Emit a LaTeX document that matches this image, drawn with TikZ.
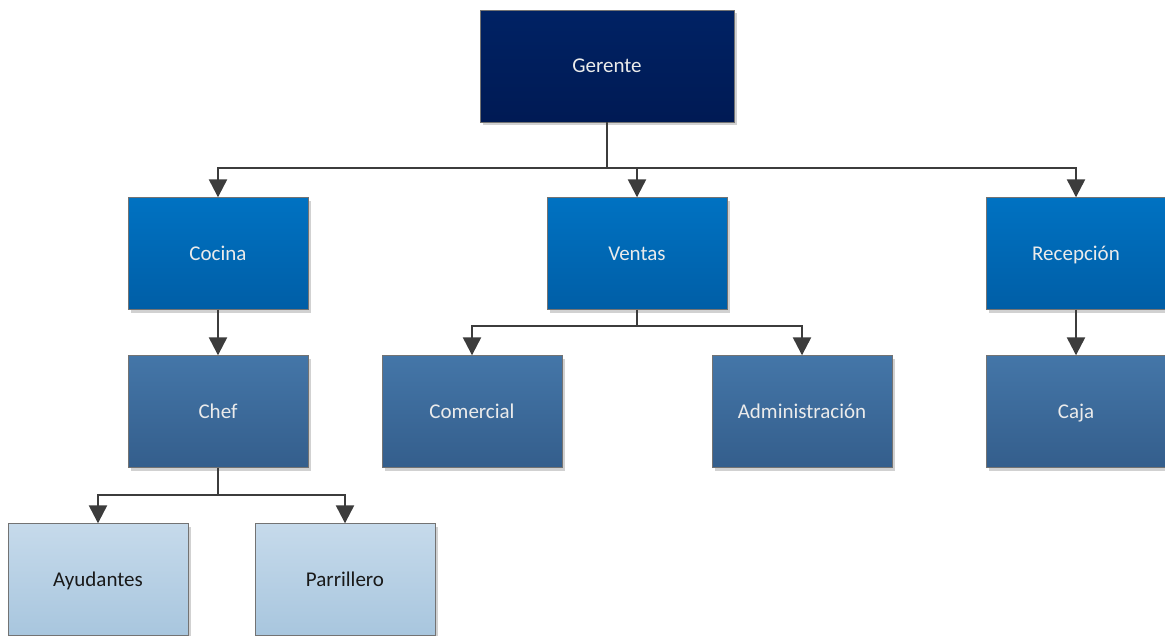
\documentclass[tikz,border=0pt]{standalone}
\usepackage{fontspec}
\setmainfont{Carlito}
\usetikzlibrary{arrows.meta,shadows}
\definecolor{navyT}{RGB}{0,34,100}
\definecolor{navyB}{RGB}{0,26,84}
\definecolor{blueT}{RGB}{0,114,194}
\definecolor{blueB}{RGB}{0,94,166}
\definecolor{steelT}{RGB}{68,118,168}
\definecolor{steelB}{RGB}{52,94,140}
\definecolor{lightT}{RGB}{198,218,235}
\definecolor{lightB}{RGB}{168,198,222}
\definecolor{conn}{RGB}{60,60,60}
\tikzset{
  box/.style={rectangle, minimum width=180pt, minimum height=112pt, inner sep=0pt,
    font=\fontsize{21}{25}\selectfont, text height=17pt, text depth=4pt,
    drop shadow={shadow xshift=3pt, shadow yshift=-3pt, fill=black!18, opacity=1},
    draw=black!55, line width=0.4pt},
  lvl0/.style={box, top color=navyT, bottom color=navyB, text=white!92!black, minimum width=254pt},
  lvl1/.style={box, top color=blueT, bottom color=blueB, text=white!92!black},
  lvl2/.style={box, top color=steelT, bottom color=steelB, text=white!92!black},
  lvl3/.style={box, top color=lightT, bottom color=lightB, text=black!90},
  conn/.style={draw=conn, line width=2.4pt, -{Triangle[length=18pt,width=18pt]}},
  plain/.style={draw=conn, line width=2.4pt}
}
\begin{document}
\begin{tikzpicture}[x=1pt,y=-1pt]
\useasboundingbox (0,0) rectangle (1165,635);
\node[lvl0] (ger) at (607,66) {Gerente};
\node[lvl1] (coc) at (218,253.5) {Cocina};
\node[lvl1] (ven) at (637,253.5) {Ventas};
\node[lvl1] (rec) at (1076,253.5) {Recepción};
\node[lvl2] (chef) at (218,411.5) {Chef};
\node[lvl2] (com) at (472,411.5) {Comercial};
\node[lvl2] (adm) at (802,411.5) {Administración};
\node[lvl2] (caja) at (1076,411.5) {Caja};
\node[lvl3] (ayu) at (98,579.5) {Ayudantes};
\node[lvl3] (par) at (345,579.5) {Parrillero};
\coordinate (j0) at (607,168);
\coordinate (j1) at (637,326);
\coordinate (j2) at (218,495);
\draw[plain] (ger.south) -- (j0);
\draw[conn] (j0) -| (coc.north);
\draw[conn] (j0) -| (ven.north);
\draw[conn] (j0) -| (rec.north);
\draw[conn] (coc.south) -- (chef.north);
\draw[conn] (rec.south) -- (caja.north);
\draw[plain] (ven.south) -- (j1);
\draw[conn] (j1) -| (com.north);
\draw[conn] (j1) -| (adm.north);
\draw[plain] (chef.south) -- (j2);
\draw[conn] (j2) -| (ayu.north);
\draw[conn] (j2) -| (par.north);
\end{tikzpicture}
\end{document}
